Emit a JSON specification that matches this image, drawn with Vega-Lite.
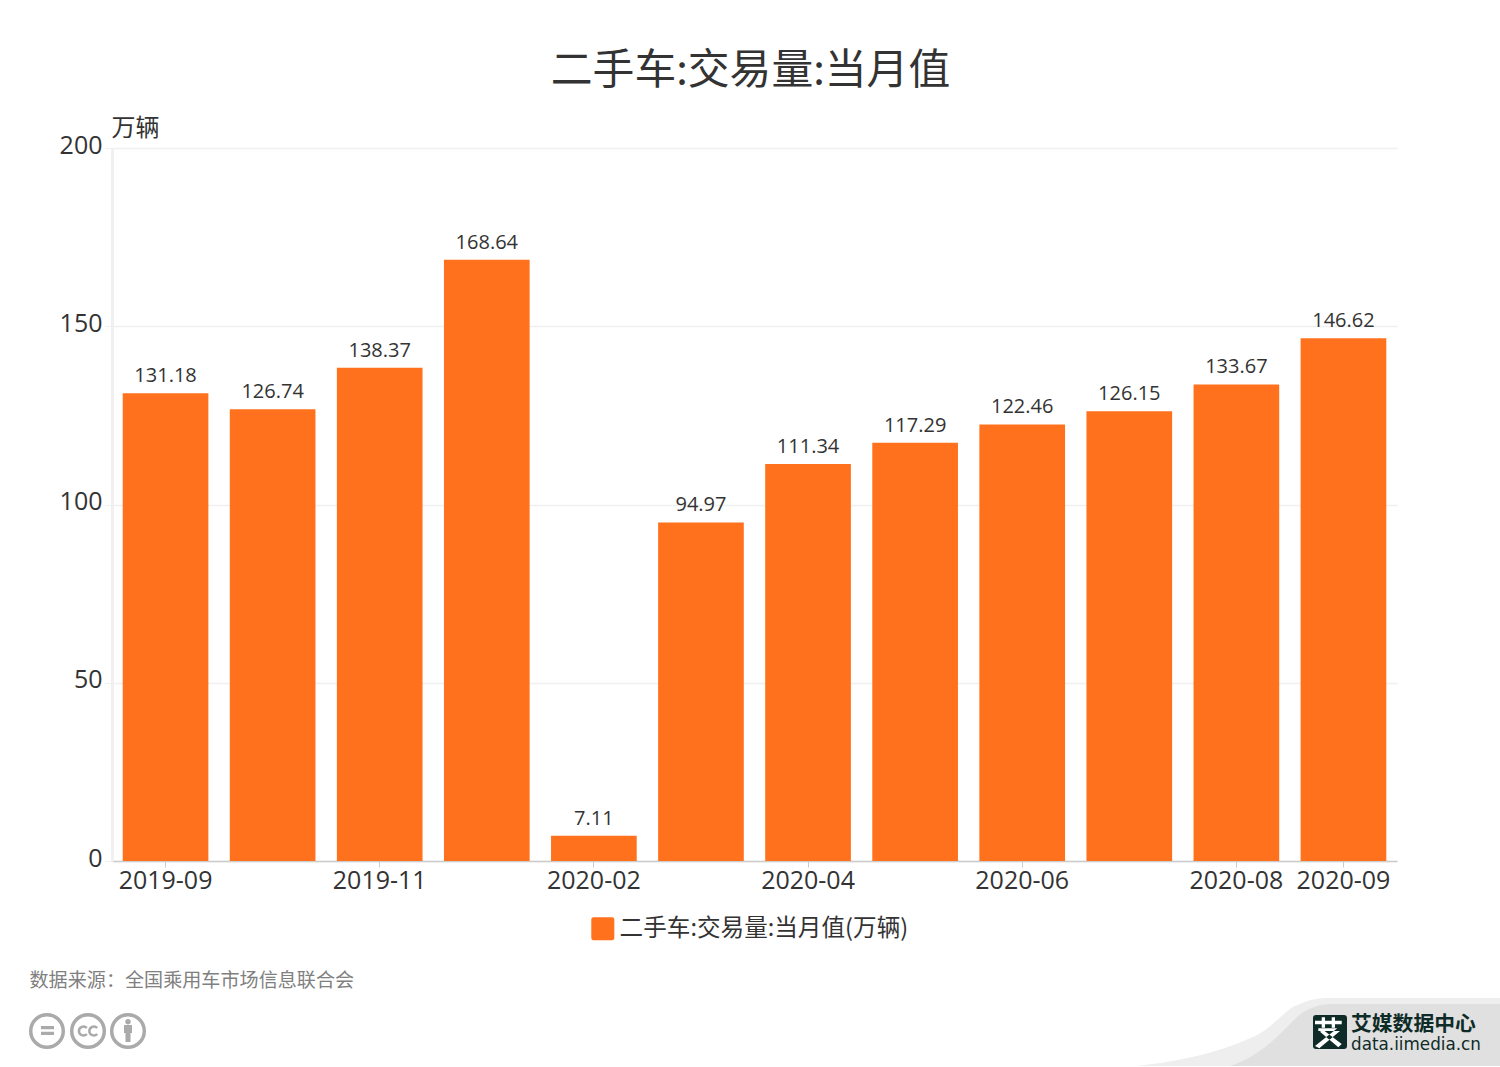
{
  "$schema": "https://vega.github.io/schema/vega-lite/v6.json",
  "autosize": {"type": "none"},
  "padding": {"left": 112, "top": 148, "right": 103, "bottom": 206},
  "width": 1285,
  "height": 713,
  "background": "white",
  "config": {
    "font": "Open Sans, Noto Sans CJK SC",
    "view": {"stroke": null}
  },
  "title": {
    "text": "二手车:交易量:当月值",
    "font": "Noto Sans CJK SC",
    "fontSize": 41.8,
    "fontWeight": "normal",
    "color": "#333333",
    "anchor": "middle",
    "frame": "group",
    "dx": -4,
    "baseline": "middle",
    "offset": 3
  },
  "datasets": {
    "sales": [
      {"month": "2019-09", "value": 131.18, "series": "二手车:交易量:当月值(万辆)"},
      {"month": "2019-10", "value": 126.74, "series": "二手车:交易量:当月值(万辆)"},
      {"month": "2019-11", "value": 138.37, "series": "二手车:交易量:当月值(万辆)"},
      {"month": "2019-12", "value": 168.64, "series": "二手车:交易量:当月值(万辆)"},
      {"month": "2020-02", "value": 7.11, "series": "二手车:交易量:当月值(万辆)"},
      {"month": "2020-03", "value": 94.97, "series": "二手车:交易量:当月值(万辆)"},
      {"month": "2020-04", "value": 111.34, "series": "二手车:交易量:当月值(万辆)"},
      {"month": "2020-05", "value": 117.29, "series": "二手车:交易量:当月值(万辆)"},
      {"month": "2020-06", "value": 122.46, "series": "二手车:交易量:当月值(万辆)"},
      {"month": "2020-07", "value": 126.15, "series": "二手车:交易量:当月值(万辆)"},
      {"month": "2020-08", "value": 133.67, "series": "二手车:交易量:当月值(万辆)"},
      {"month": "2020-09", "value": 146.62, "series": "二手车:交易量:当月值(万辆)"}
    ]
  },
  "layer": [
    {
      "data": {"values": [{"part": "light"}, {"part": "dark"}, {"part": "logo"}, {"part": "glyph"}]},
      "mark": {"type": "point", "filled": true, "size": 4, "opacity": 1},
      "encoding": {
        "x": {"field": "part", "type": "nominal", "scale": {"type": "point", "range": [1388, 1388]}, "axis": null},
        "y": {"field": "part", "type": "nominal", "scale": {"type": "point", "range": [918, 918]}, "axis": null},
        "shape": {
          "field": "part", "type": "nominal", "legend": null,
          "scale": {
            "domain": ["light", "dark", "logo", "glyph"],
            "range": [
              "M -363 0 C -320 -5 -285 -12 -247 -29 C -225 -39 -215 -58 -200 -62 C -190 -67 -180 -68 -170 -68 L 0 -68 L 0 0 Z",
              "M -270 0 C -255 -5 -243 -12 -230 -23 C -215 -35 -205 -50 -193 -56 C -185 -60 -177 -62 -167 -62 L 0 -62 L 0 0 Z",
              "M -184 -51 L -156 -51 Q -153 -51 -153 -48 L -153 -20 Q -153 -17 -156 -17 L -184 -17 Q -187 -17 -187 -20 L -187 -48 Q -187 -51 -184 -51 Z",
              "M -185 -45.3 L -158.3 -45.3 L -158.3 -41.7 L -185 -41.7 Z M -178.3 -48.7 L -175 -48.7 L -175 -38.3 L -178.3 -38.3 Z M -168.3 -48.7 L -165 -48.7 L -165 -38.3 L -168.3 -38.3 Z M -181.7 -37.7 L -162.7 -37.7 L -160 -35 L -181.7 -35 Z M -162.7 -37.7 L -185 -20 L -180.7 -17.7 L -160 -35 Z M -180 -34.3 L -176.7 -36 L -158.3 -22 L -161.7 -18.7 Z"
            ]
          }
        },
        "color": {
          "field": "part", "type": "nominal", "legend": null,
          "scale": {"domain": ["light", "dark", "logo", "glyph"], "range": ["#eeeeee", "#e0e0e0", "#0e2b27", "#ffffff"]}
        }
      }
    },
    {
      "data": {"values": [{"label": "艾媒数据中心"}]},
      "mark": {"type": "text", "font": "Noto Sans CJK SC", "fontWeight": "bold", "fontSize": 20.8, "color": "#0e2b27", "align": "left", "baseline": "middle"},
      "encoding": {
        "x": {"field": "label", "type": "nominal", "scale": {"type": "point", "range": [1239, 1239]}, "axis": null},
        "y": {"field": "label", "type": "nominal", "scale": {"type": "point", "range": [877, 877]}, "axis": null},
        "text": {"field": "label"}
      }
    },
    {
      "data": {"values": [{"label": "data.iimedia.cn"}]},
      "mark": {"type": "text", "font": "DejaVu Sans", "fontSize": 16.8, "color": "#0e2b27", "align": "left", "baseline": "middle"},
      "encoding": {
        "x": {"field": "label", "type": "nominal", "scale": {"type": "point", "range": [1239, 1239]}, "axis": null},
        "y": {"field": "label", "type": "nominal", "scale": {"type": "point", "range": [896.5, 896.5]}, "axis": null},
        "text": {"field": "label"}
      }
    },
    {
      "data": {"values": [{"part": "cc outline"}]},
      "mark": {"type": "point", "filled": false, "size": 4, "opacity": 1, "strokeWidth": 3.5, "color": "#aaaaaa"},
      "encoding": {
        "x": {"field": "part", "type": "nominal", "scale": {"type": "point", "range": [-65, -65]}, "axis": null},
        "y": {"field": "part", "type": "nominal", "scale": {"type": "point", "range": [883, 883]}, "axis": null},
        "shape": {
          "field": "part", "type": "nominal", "legend": null,
          "scale": {
            "domain": ["cc outline"],
            "range": ["M -16.3 0 A 16.3 16.3 0 1 1 16.3 0 A 16.3 16.3 0 1 1 -16.3 0 M 24.7 0 A 16.3 16.3 0 1 1 57.3 0 A 16.3 16.3 0 1 1 24.7 0 M 64.7 0 A 16.3 16.3 0 1 1 97.3 0 A 16.3 16.3 0 1 1 64.7 0"]
          }
        }
      }
    },
    {
      "data": {"values": [{"part": "cc letters"}]},
      "mark": {"type": "point", "filled": false, "size": 4, "opacity": 1, "strokeWidth": 2.5, "color": "#aaaaaa"},
      "encoding": {
        "x": {"field": "part", "type": "nominal", "scale": {"type": "point", "range": [-65, -65]}, "axis": null},
        "y": {"field": "part", "type": "nominal", "scale": {"type": "point", "range": [883, 883]}, "axis": null},
        "shape": {
          "field": "part", "type": "nominal", "legend": null,
          "scale": {
            "domain": ["cc letters"],
            "range": ["M 39.8 -3 A 4.5 4.5 0 1 0 39.8 3 M 50.2 -3 A 4.5 4.5 0 1 0 50.2 3"]
          }
        }
      }
    },
    {
      "data": {"values": [{"part": "cc fill"}]},
      "mark": {"type": "point", "filled": true, "size": 4, "opacity": 1, "color": "#aaaaaa"},
      "encoding": {
        "x": {"field": "part", "type": "nominal", "scale": {"type": "point", "range": [-65, -65]}, "axis": null},
        "y": {"field": "part", "type": "nominal", "scale": {"type": "point", "range": [883, 883]}, "axis": null},
        "shape": {
          "field": "part", "type": "nominal", "legend": null,
          "scale": {
            "domain": ["cc fill"],
            "range": ["M -6 -5 L 7 -5 L 7 -1.7 L -6 -1.7 Z M -6 0.7 L 7 0.7 L 7 4 L -6 4 Z M 78.2 -9.3 A 2.8 2.8 0 1 1 83.8 -9.3 A 2.8 2.8 0 1 1 78.2 -9.3 Z M 77 -6 L 85 -6 L 85 2 L 83.5 2 L 83.5 11 L 78.5 11 L 78.5 2 L 77 2 Z"]
          }
        }
      }
    },
    {
      "data": {"name": "sales"},
      "layer": [
        {
          "mark": {"type": "bar"},
          "encoding": {
            "x": {
              "field": "month", "type": "nominal", "sort": null,
              "scale": {"paddingInner": 0.2, "paddingOuter": 0.1},
              "axis": {
                "values": ["2019-09", "2019-11", "2020-02", "2020-04", "2020-06", "2020-08", "2020-09"],
                "labelAngle": 0,
                "labelFontSize": 25,
                "labelColor": "#333333",
                "labelPadding": 1,
                "labelOverlap": false,
                "domainColor": "#cccccc",
                "domainWidth": 1.5,
                "tickColor": "#cccccc",
                "tickSize": 6,
                "grid": false,
                "title": "数据来源：全国乘用车市场信息联合会",
                "titleFont": "Noto Sans CJK SC",
                "titleFontSize": 19.1,
                "titleFontWeight": "normal",
                "titleColor": "#808080",
                "titleAnchor": "start",
                "titleAlign": "left",
                "titleBaseline": "middle",
                "titleX": -83,
                "titleY": 119
              }
            },
            "y": {
              "field": "value", "type": "quantitative",
              "scale": {"domain": [0, 200]},
              "axis": {
                "values": [0, 50, 100, 150, 200],
                "grid": true,
                "labelFontSize": 25,
                "labelColor": "#333333",
                "labelPadding": 3,
                "labelOffset": -3,
                "domainColor": "#f0f0f0",
                "domainWidth": 3,
                "tickColor": "#f0f0f0",
                "tickSize": 7,
                "gridColor": "#f0f0f0",
                "gridWidth": 1.5,
                "title": "万辆",
                "titleFont": "Noto Sans CJK SC",
                "titleFontSize": 24,
                "titleFontWeight": "normal",
                "titleColor": "#333333",
                "titleAngle": 0,
                "titleAlign": "left",
                "titleBaseline": "middle",
                "titleX": -1,
                "titleY": -20
              }
            },
            "color": {
              "field": "series", "type": "nominal",
              "scale": {"range": ["#ff711c"]},
              "legend": {
                "orient": "none",
                "legendX": 479,
                "legendY": 769,
                "title": null,
                "symbolType": "M -0.8 -1 L 0.8 -1 Q 1 -1 1 -0.8 L 1 0.8 Q 1 1 0.8 1 L -0.8 1 Q -1 1 -1 0.8 L -1 -0.8 Q -1 -1 -0.8 -1 Z",
                "symbolSize": 529,
                "symbolOpacity": 1,
                "symbolStrokeWidth": 0,
                "labelFont": "Noto Sans CJK SC",
                "labelFontSize": 23.6,
                "labelColor": "#333333",
                "labelOffset": 5,
                "labelLimit": 400
              }
            }
          }
        },
        {
          "mark": {"type": "text", "fontSize": 20, "color": "#333333", "baseline": "bottom", "dy": -7},
          "encoding": {
            "x": {"field": "month", "type": "nominal", "sort": null},
            "y": {"field": "value", "type": "quantitative"},
            "text": {"field": "value", "type": "quantitative"}
          }
        }
      ]
    }
  ],
  "resolve": {
    "scale": {"x": "independent", "y": "independent", "shape": "independent", "color": "independent"},
    "axis": {"x": "independent", "y": "independent"}
  }
}
